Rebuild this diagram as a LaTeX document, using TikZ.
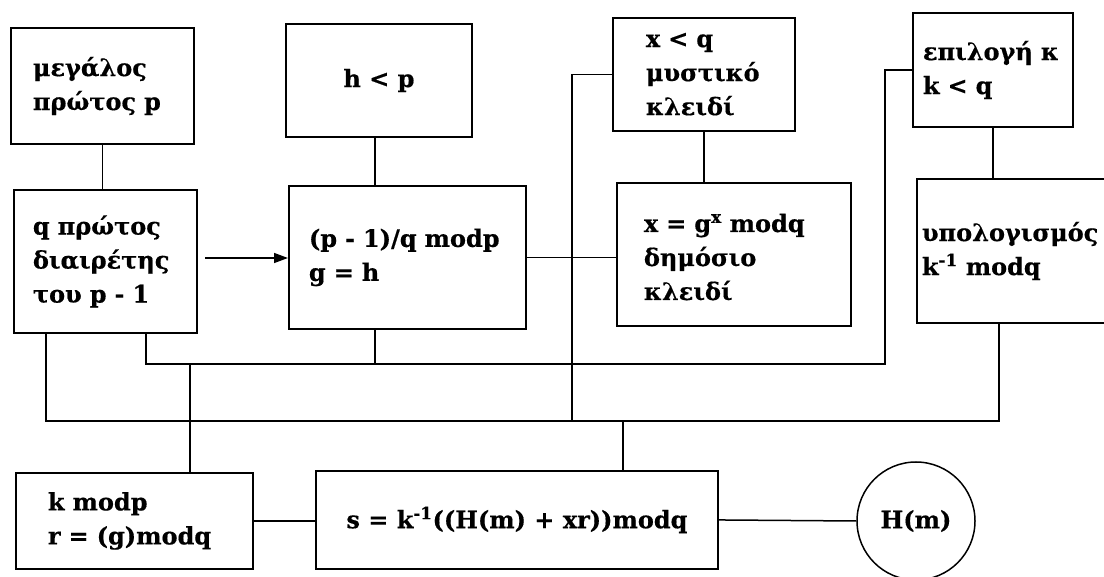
\documentclass[tikz,border=0pt]{standalone}
\usepackage{fontspec}
\setmainfont{DejaVu Serif}[BoldFeatures={FakeBold=0.5}]
\usetikzlibrary{arrows.meta,calc}
\begin{document}
\begin{tikzpicture}[x=1pt,y=-1pt,
  every node/.style={font=\fontsize{24}{34}\selectfont\bfseries},
  box/.style={draw,line width=1.9pt,rectangle,inner ysep=0pt,align=left},
  cbox/.style={draw,line width=1.9pt,rectangle,inner sep=0pt,align=center},
  conn/.style={line width=1.5pt}]
\useasboundingbox (0,0) rectangle (1104,577);
\clip (0,0) rectangle (1104,577);
% boxes
\node[box,anchor=north west,minimum width=183pt,minimum height=116pt,inner xsep=22pt,text width=139pt] (A) at (10,27) {μεγάλος\\πρώτος p};
\node[cbox,anchor=north west,minimum width=186pt,minimum height=113pt] (Hp) at (285,23) {h < p};
\node[box,anchor=north west,minimum width=182pt,minimum height=113pt,inner xsep=33pt,text width=116pt] (Xq) at (612,17) {x < q\\μυστικό\\κλειδί};
\node[box,anchor=north west,minimum width=160pt,minimum height=114pt,inner xsep=10pt,text width=140pt] (Ep) at (912,12) {επιλογή κ\\k < q};
\node[box,anchor=north west,minimum width=183pt,minimum height=143pt,inner xsep=19pt,text width=145pt] (B) at (13,189) {q πρώτος\\διαιρέτης\\του p - 1};
\node[box,anchor=north west,minimum width=237pt,minimum height=143pt,inner xsep=20pt,text width=197pt] (C) at (288,185) {(p - 1)/q modp\\g = h\\[4pt]};
\node[box,anchor=north west,minimum width=234pt,minimum height=143pt,inner xsep=27pt,text width=180pt] (X2) at (616,182) {\\[-10pt]x = g\textsuperscript{x} modq\\δημόσιο\\κλειδί};
\node[box,anchor=north west,minimum width=200pt,minimum height=144pt,inner xsep=5pt,text width=190pt] (U) at (916,178) {υπολογισμός\\k\textsuperscript{-1} modq\\[14pt]};
\node[box,anchor=north west,minimum width=237pt,minimum height=96pt,inner xsep=32pt,text width=173pt] (K) at (15,472) {k modp\\r = (g)modq};
\node[cbox,anchor=north west,minimum width=402pt,minimum height=98pt] (S) at (315,470) {s = k\textsuperscript{-1}((H(m) + xr))modq};
\node[draw,circle,line width=1.5pt,minimum size=118pt,inner sep=0pt] (H) at (916,521) {H(m)};
% junction coordinates
\coordinate (arS) at (205,258);
\coordinate (j1) at (572,421);
\coordinate (j2) at (885,364);
\coordinate (j3) at (146,364);
\coordinate (j4) at (375,364);
\coordinate (j5) at (46,421);
\coordinate (j6) at (999,421);
\coordinate (j7) at (190,364);
\coordinate (j8) at (623,421);
% connectors
\draw[conn] (A.south) -- (A.south |- B.north);
\draw[conn,-{Triangle[length=14pt,width=10pt]}] (arS) -- (arS -| C.west);
\draw[conn] (j4 |- Hp.south) -- (j4 |- C.north);
\draw[conn] (C.east) -- (C.east -| X2.west);
\draw[conn] (Xq.south) -- (Xq.south |- X2.north);
\draw[conn] (Ep.south) -- (Ep.south |- U.north);
\draw[conn] (Xq.west) -| (j1);
\draw[conn] (Ep.west) -| (j2) -- (j3) -- (j3 |- B.south);
\draw[conn] (j4 |- C.south) -- (j4);
\draw[conn] (j5 |- B.south) -- (j5) -- (j6) -- (j6 |- U.south);
\draw[conn] (j7) -- (j7 |- K.north);
\draw[conn] (j8) -- (j8 |- S.north);
\draw[conn] (K.east) -- (K.east -| S.west);
\draw[conn] (S.east) -- (H.west);
\end{tikzpicture}
\end{document}
